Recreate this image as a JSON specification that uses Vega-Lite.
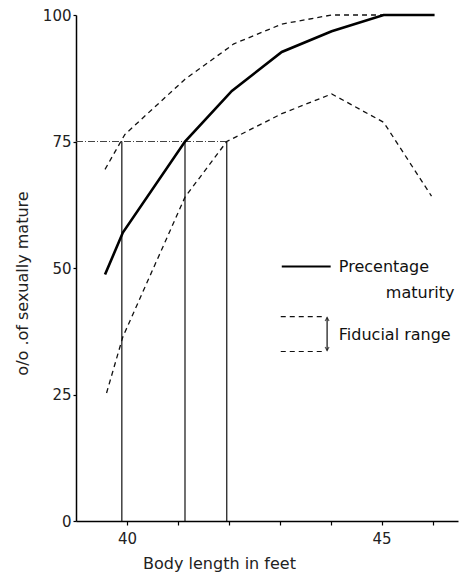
{
  "$schema": "https://vega.github.io/schema/vega-lite/v6.json",
  "width": 382,
  "height": 506,
  "autosize": "none",
  "padding": {"left": 76, "top": 15, "right": 15, "bottom": 61},
  "background": "white",
  "config": {
    "view": {"stroke": null},
    "font": "DejaVu Sans",
    "axis": {"grid": false, "domainColor": "black", "tickColor": "black", "labelColor": "#222", "titleColor": "#222", "labelFont": "DejaVu Sans", "titleFont": "DejaVu Sans", "titleFontWeight": "normal"}
  },
  "datasets": {
    "curves": [
      {"series": "main", "x": 39.57, "y": 48.7},
      {"series": "main", "x": 39.92, "y": 57},
      {"series": "main", "x": 41.14, "y": 75},
      {"series": "main", "x": 42.06, "y": 85},
      {"series": "main", "x": 43.04, "y": 92.7},
      {"series": "main", "x": 44.02, "y": 96.8},
      {"series": "main", "x": 45.04, "y": 100},
      {"series": "main", "x": 46.04, "y": 100},
      {"series": "upper", "x": 39.57, "y": 69.5},
      {"series": "upper", "x": 39.96, "y": 76.4},
      {"series": "upper", "x": 41.14, "y": 87.3},
      {"series": "upper", "x": 42.1, "y": 94.3},
      {"series": "upper", "x": 43.04, "y": 98.2},
      {"series": "upper", "x": 44.02, "y": 100},
      {"series": "upper", "x": 45.04, "y": 100},
      {"series": "lower", "x": 39.6, "y": 25.3},
      {"series": "lower", "x": 39.92, "y": 36.4},
      {"series": "lower", "x": 41.14, "y": 64},
      {"series": "lower", "x": 41.96, "y": 75},
      {"series": "lower", "x": 43.04, "y": 80.5},
      {"series": "lower", "x": 44.02, "y": 84.4},
      {"series": "lower", "x": 45.04, "y": 78.8},
      {"series": "lower", "x": 45.98, "y": 64.2}
    ],
    "verticals": [
      {"x": 39.9, "y": 0, "y2": 75},
      {"x": 41.14, "y": 0, "y2": 75},
      {"x": 41.96, "y": 0, "y2": 75}
    ],
    "horiz": [
      {"x": 39, "x2": 41.96, "y": 75}
    ],
    "legendSolid": [
      {"x": 43.04, "x2": 44.0, "y": 50.3}
    ],
    "legendDash": [
      {"x": 43.02, "x2": 43.86, "y": 40.4},
      {"x": 43.02, "x2": 43.86, "y": 33.5}
    ],
    "arrow": [
      {"x": 43.93, "y": 33.7, "y2": 40.2}
    ],
    "heads": [
      {"x": 43.93, "y": 40.2, "dir": "up"},
      {"x": 43.93, "y": 33.7, "dir": "down"}
    ],
    "labelsLeft": [
      {"x": 44.16, "y": 50.1, "text": "Precentage"},
      {"x": 44.16, "y": 36.8, "text": "Fiducial  range"}
    ],
    "labelsRight": [
      {"x": 46.43, "y": 45.1, "text": "maturity"}
    ]
  },
  "layer": [
    {
      "data": {"name": "horiz"},
      "mark": {"type": "rule", "color": "#444", "strokeWidth": 1, "strokeDash": [7, 2, 1, 2]},
      "encoding": {
        "x": {"field": "x", "type": "quantitative", "scale": {"domain": [39, 46.5], "nice": false, "zero": false},
          "axis": {"values": [40, 41, 42, 43, 44, 45, 46], "labelExpr": "datum.value == 40 || datum.value == 45 ? datum.label : ''", "title": "Body  length in feet", "titleFontSize": 16, "titleX": 143, "titleY": 42, "titleAlign": "center", "titleBaseline": "middle", "labelFontSize": 15, "labelPadding": 6, "tickSize": 4, "domainWidth": 1.5, "tickWidth": 1.2}},
        "x2": {"field": "x2"},
        "y": {"field": "y", "type": "quantitative", "scale": {"domain": [0, 100], "nice": false},
          "axis": {"values": [0, 25, 50, 75, 100], "title": "o/o .of sexually mature", "titleFontSize": 16, "titleX": -54, "titleY": 268, "titleAngle": -90, "titleAlign": "center", "titleBaseline": "middle", "labelFontSize": 15, "labelPadding": 2, "tickSize": 3, "domainWidth": 1.5, "tickWidth": 1.2}}
      }
    },
    {
      "data": {"name": "verticals"},
      "mark": {"type": "rule", "color": "#111", "strokeWidth": 1.2},
      "encoding": {
        "x": {"field": "x", "type": "quantitative"},
        "y": {"field": "y", "type": "quantitative"},
        "y2": {"field": "y2"}
      }
    },
    {
      "data": {"name": "curves"},
      "transform": [{"filter": "datum.series != 'main'"}],
      "mark": {"type": "line", "color": "#111", "strokeWidth": 1.3, "strokeDash": [5, 4]},
      "encoding": {
        "x": {"field": "x", "type": "quantitative"},
        "y": {"field": "y", "type": "quantitative"},
        "detail": {"field": "series"},
        "order": {"field": "x", "type": "quantitative"}
      }
    },
    {
      "data": {"name": "curves"},
      "transform": [{"filter": "datum.series == 'main'"}],
      "mark": {"type": "line", "color": "black", "strokeWidth": 2.6},
      "encoding": {
        "x": {"field": "x", "type": "quantitative"},
        "y": {"field": "y", "type": "quantitative"},
        "order": {"field": "x", "type": "quantitative"}
      }
    },
    {
      "data": {"name": "legendSolid"},
      "mark": {"type": "rule", "color": "black", "strokeWidth": 2.2},
      "encoding": {
        "x": {"field": "x", "type": "quantitative"},
        "x2": {"field": "x2"},
        "y": {"field": "y", "type": "quantitative"}
      }
    },
    {
      "data": {"name": "legendDash"},
      "mark": {"type": "rule", "color": "#111", "strokeWidth": 1.2, "strokeDash": [5, 4]},
      "encoding": {
        "x": {"field": "x", "type": "quantitative"},
        "x2": {"field": "x2"},
        "y": {"field": "y", "type": "quantitative"}
      }
    },
    {
      "data": {"name": "arrow"},
      "mark": {"type": "rule", "color": "#111", "strokeWidth": 1.2},
      "encoding": {
        "x": {"field": "x", "type": "quantitative"},
        "y": {"field": "y", "type": "quantitative"},
        "y2": {"field": "y2"}
      }
    },
    {
      "data": {"name": "heads"},
      "mark": {"type": "point", "filled": false, "stroke": "#111", "strokeWidth": 1.2, "size": 60},
      "encoding": {
        "x": {"field": "x", "type": "quantitative"},
        "y": {"field": "y", "type": "quantitative"},
        "shape": {"field": "dir", "type": "nominal", "scale": {"domain": ["up", "down"], "range": ["M-0.5,0.9L0,0L0.5,0.9", "M-0.5,-0.9L0,0L0.5,-0.9"]}, "legend": null}
      }
    },
    {
      "data": {"name": "labelsLeft"},
      "mark": {"type": "text", "fontSize": 16, "color": "#111", "baseline": "middle", "align": "left"},
      "encoding": {
        "x": {"field": "x", "type": "quantitative"},
        "y": {"field": "y", "type": "quantitative"},
        "text": {"field": "text"}
      }
    },
    {
      "data": {"name": "labelsRight"},
      "mark": {"type": "text", "fontSize": 16, "color": "#111", "baseline": "middle", "align": "right"},
      "encoding": {
        "x": {"field": "x", "type": "quantitative"},
        "y": {"field": "y", "type": "quantitative"},
        "text": {"field": "text"}
      }
    }
  ]
}
